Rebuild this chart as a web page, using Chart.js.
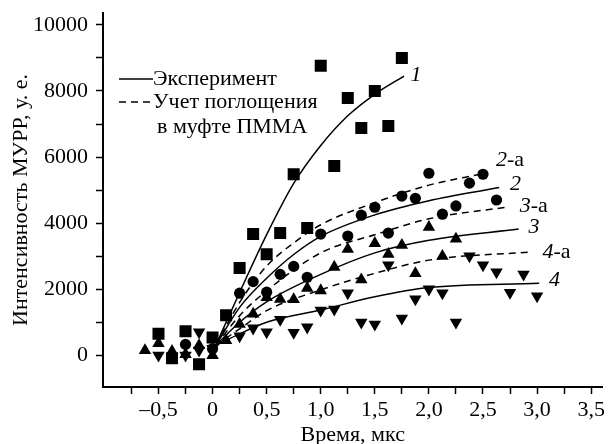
<!DOCTYPE html>
<html>
<head>
<meta charset="utf-8">
<script src="https://cdn.jsdelivr.net/npm/chart.js@4.4.0/dist/chart.umd.min.js"></script>
<style>
body { margin: 0; background: #fff; font-family: "Liberation Serif", serif; }
#font-warm { position: absolute; left: -1000px; top: 0; font: 22px "Liberation Serif"; }
#font-warm i { font-style: italic; }
</style>
</head>
<body>
<span id="font-warm">Время 0123 <i>1234</i></span>
<canvas id="saxs-chart" width="611" height="444"></canvas>
<script>
// Measured points, time in us / intensity in a.u.
var squareT = [-0.5, -0.375, -0.25, -0.125, 0, 0.125, 0.25, 0.375, 0.5, 0.625, 0.75, 0.875, 1.0, 1.125, 1.25, 1.375, 1.5, 1.625, 1.75];
var squareI = [650, -90, 730, -270, 540, 1210, 2640, 3670, 3060, 3700, 5480, 3850, 8760, 5730, 7790, 6880, 8000, 6940, 9000];

var circleT = [-0.25, 0, 0.25, 0.375, 0.5, 0.625, 0.75, 0.875, 1.0, 1.25, 1.375, 1.5, 1.625, 1.75, 1.875, 2.0, 2.125, 2.25, 2.375, 2.5, 2.625];
var circleI = [330, 200, 1880, 2230, 1910, 2450, 2690, 2360, 3670, 3610, 4240, 4480, 3700, 4820, 4750, 5510, 4270, 4520, 5210, 5480, 4700];

var triT = [-0.625, -0.5, -0.375, -0.25, -0.125, 0, 0.125, 0.25, 0.375, 0.5, 0.625, 0.75, 0.875, 1.0, 1.125, 1.25, 1.375, 1.5, 1.625, 1.75, 1.875, 2.0, 2.125, 2.25];
var triI = [150, 360, 120, 30, 300, 0, 450, 940, 1250, 1750, 1700, 1690, 2030, 1960, 2670, 3210, 2290, 3390, 3060, 3330, 2480, 3880, 3000, 3520];

var downT = [-0.5, -0.25, -0.125, -0.125, 0, 0.25, 0.375, 0.5, 0.625, 0.75, 0.875, 1.0, 1.125, 1.25, 1.375, 1.5, 1.625, 1.75, 1.875, 2.0, 2.125, 2.25, 2.375, 2.5, 2.625, 2.75, 2.875, 3.0];
var downI = [0, 0, 700, 150, 200, 580, 820, 700, 1080, 690, 850, 1360, 1390, 1880, 1000, 940, 2730, 1120, 1700, 2000, 1880, 1000, 3000, 2730, 2520, 1900, 2450, 1790];

// Fitted curves (solid = experiment, dashed = with PMMA sleeve absorption)
var fit1T = [0.03, 0.25, 0.5, 0.75, 1.0, 1.25, 1.5, 1.77];
var fit1I = [300, 1900, 3650, 5200, 6350, 7250, 7900, 8450];
var fit2T = [0.03, 0.25, 0.5, 0.75, 1.0, 1.5, 2.0, 2.65];
var fit2I = [300, 1450, 2330, 3050, 3600, 4250, 4680, 5080];
var fit2aT = [0.03, 0.25, 0.5, 0.75, 1.0, 1.5, 2.0, 2.49];
var fit2aI = [300, 1600, 2700, 3400, 3950, 4620, 5150, 5490];
var fit3T = [0.03, 0.25, 0.5, 1.0, 1.5, 2.0, 2.83];
var fit3I = [300, 1000, 1620, 2450, 3100, 3480, 3820];
var fit3aT = [0.03, 0.25, 0.5, 1.0, 1.5, 2.0, 2.73];
var fit3aI = [300, 1200, 1950, 3100, 3650, 4130, 4490];
var fit4aT = [0.03, 0.25, 0.5, 1.0, 1.5, 2.0, 2.96];
var fit4aI = [300, 800, 1350, 1980, 2480, 2880, 3130];
var fit4T = [0.03, 0.25, 0.5, 1.0, 1.5, 2.0, 3.02];
var fit4I = [300, 650, 1000, 1370, 1770, 2050, 2180];

// Curve numbers written next to the line ends
var tagT = [1.83, 2.62, 2.75, 2.84, 2.92, 3.05, 3.11];
var tagI = [8480, 5910, 5180, 4515, 3880, 3120, 2270];
var tagNum = ['1', '2', '2', '3', '3', '4', '4'];
var tagSuffix = ['', '-а', '', '-а', '', '-а', ''];

// Axis ticks
var xTicks = [-0.75, -0.5, -0.25, 0, 0.25, 0.5, 0.75, 1.0, 1.25, 1.5, 1.75, 2.0, 2.25, 2.5, 2.75, 3.0, 3.25, 3.5];
var yTicks = [0, 1000, 2000, 3000, 4000, 5000, 6000, 7000, 8000, 9000, 10000];

var FONT = '"Liberation Serif", serif';
Chart.defaults.font.family = FONT;
Chart.defaults.color = '#000';

function pts(xs, ys) {
    return xs.map(function (x, i) { return { x: x, y: ys[i] }; });
}

function markers(xs, ys, style, r, rot) {
    return {
        data: pts(xs, ys),
        showLine: false,
        pointStyle: style,
        pointRadius: r,
        pointRotation: rot || 0,
        backgroundColor: '#000',
        borderColor: '#000',
        borderWidth: 0
    };
}

function curve(xs, ys, dashed) {
    return {
        data: pts(xs, ys),
        showLine: true,
        pointRadius: 0,
        borderColor: '#000',
        borderWidth: 1.5,
        borderDash: dashed ? [7, 5] : [],
        cubicInterpolationMode: 'monotone',
        fill: false
    };
}

function fmtTime(v) {
    if (Math.abs(v * 2 - Math.round(v * 2)) > 1e-6) return '';
    if (v === 0) return '0';
    return (v < 0 ? '–' : '') + Math.abs(v).toFixed(1).replace('.', ',');
}

// legend box and curve numbers
var annotations = {
    id: 'annotations',
    afterDatasetsDraw: function (chart) {
        var ctx = chart.ctx, a = chart.chartArea;
        var xs = chart.scales.x, ys = chart.scales.y;
        ctx.save();
        ctx.fillStyle = '#000';
        ctx.strokeStyle = '#000';
        ctx.lineWidth = 1.5;

        // legend
        var lx = a.left + 16;
        ctx.beginPath();
        ctx.moveTo(lx, a.top + 66);
        ctx.lineTo(lx + 34, a.top + 66);
        ctx.stroke();
        ctx.setLineDash([7, 5]);
        ctx.beginPath();
        ctx.moveTo(lx, a.top + 89);
        ctx.lineTo(lx + 34, a.top + 89);
        ctx.stroke();
        ctx.setLineDash([]);
        ctx.font = '22px ' + FONT;
        ctx.textAlign = 'left';
        ctx.textBaseline = 'middle';
        ctx.fillText('Эксперимент', lx + 34, a.top + 66);
        ctx.fillText('Учет поглощения', lx + 34, a.top + 89);
        ctx.fillText('в муфте ПММА', lx + 38, a.top + 114);

        // curve numbers
        for (var i = 0; i < tagT.length; i++) {
            var px = xs.getPixelForValue(tagT[i]);
            var py = ys.getPixelForValue(tagI[i]);
            ctx.font = 'italic 22px ' + FONT;
            ctx.fillText(tagNum[i], px, py);
            if (tagSuffix[i]) {
                var w = ctx.measureText(tagNum[i]).width;
                ctx.font = '22px ' + FONT;
                ctx.fillText(tagSuffix[i], px + w, py);
            }
        }
        ctx.restore();
    }
};

function draw() {
    var ctx = document.getElementById('saxs-chart').getContext('2d');
    new Chart(ctx, {
        type: 'scatter',
        data: {
            datasets: [
                curve(fit1T, fit1I, false),
                curve(fit2T, fit2I, false),
                curve(fit2aT, fit2aI, true),
                curve(fit3T, fit3I, false),
                curve(fit3aT, fit3aI, true),
                curve(fit4aT, fit4aI, true),
                curve(fit4T, fit4I, false),
                markers(squareT, squareI, 'rect', 8.5),
                markers(circleT, circleI, 'circle', 5.6),
                markers(triT, triI, 'triangle', 7.2),
                markers(downT, downI, 'triangle', 7.2, 180)
            ]
        },
        options: {
            responsive: false,
            animation: false,
            devicePixelRatio: 1,
            layout: { padding: { top: 13, right: 3, left: 0, bottom: 0 } },
            plugins: {
                legend: { display: false },
                tooltip: { enabled: false }
            },
            scales: {
                x: {
                    type: 'linear',
                    min: -1.013,
                    max: 3.605,
                    afterBuildTicks: function (s) {
                        s.ticks = xTicks.map(function (v) { return { value: v }; });
                    },
                    afterFit: function (s) {
                        s.height = 57;
                        s.paddingLeft = 0;
                        s.paddingRight = 0;
                    },
                    ticks: {
                        autoSkip: false,
                        maxRotation: 0,
                        padding: 3,
                        font: { size: 22 },
                        callback: function (v) { return fmtTime(v); }
                    },
                    grid: {
                        drawOnChartArea: false,
                        tickLength: 7,
                        tickColor: '#000',
                        tickWidth: 1.5
                    },
                    border: { color: '#000', width: 2 },
                    title: {
                        display: true,
                        text: 'Время, мкс',
                        font: { size: 22 },
                        padding: { top: 0, bottom: -4 }
                    }
                },
                y: {
                    type: 'linear',
                    min: -960,
                    max: 10360,
                    afterBuildTicks: function (s) {
                        s.ticks = yTicks.map(function (v) { return { value: v }; });
                    },
                    afterFit: function (s) {
                        s.width = 103;
                        s.paddingTop = 0;
                        s.paddingBottom = 0;
                    },
                    ticks: {
                        padding: 8,
                        font: { size: 22 },
                        callback: function (v) { return v % 2000 === 0 ? String(v) : ''; }
                    },
                    grid: {
                        drawOnChartArea: false,
                        tickLength: 7,
                        tickColor: '#000',
                        tickWidth: 1.5
                    },
                    border: { color: '#000', width: 2 },
                    title: {
                        display: true,
                        text: 'Интенсивность МУРР, у. е.',
                        font: { size: 22 },
                        padding: { top: 8, bottom: 0 }
                    }
                }
            }
        },
        plugins: [annotations]
    });
}

// make sure the serif face is ready before the canvas text is drawn
if (document.fonts && document.fonts.load) {
    Promise.all([
        document.fonts.load('22px "Liberation Serif"'),
        document.fonts.load('italic 22px "Liberation Serif"')
    ]).then(draw, draw);
} else {
    draw();
}
</script>
</body>
</html>
